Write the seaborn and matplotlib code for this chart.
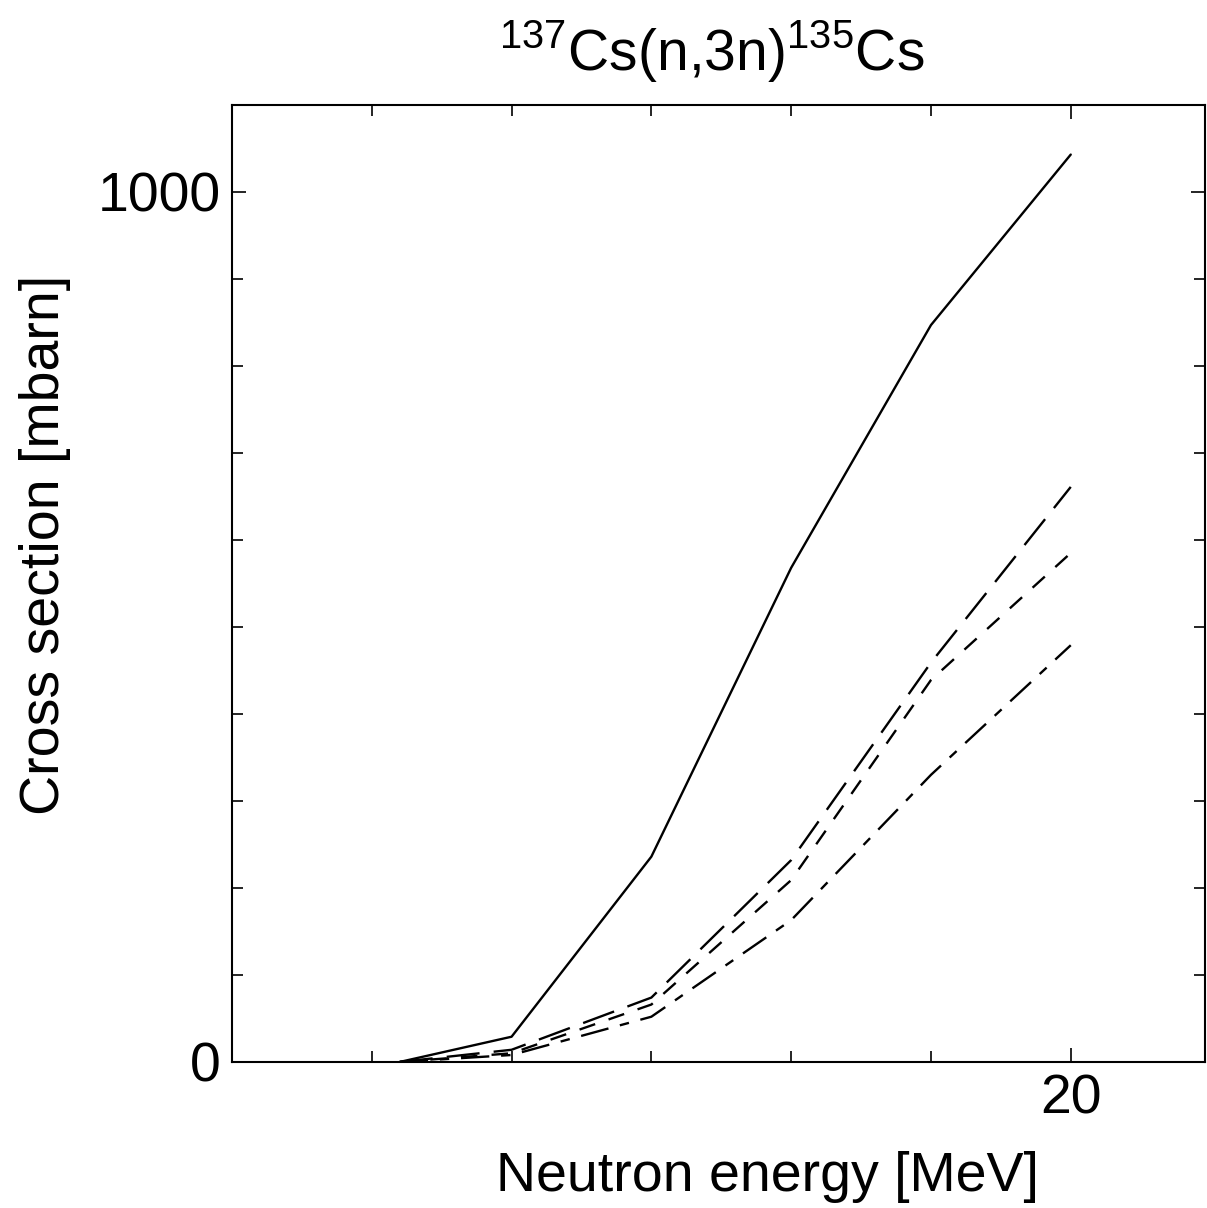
import seaborn as sns
from matplotlib import pyplot as plt
import pandas as pd

# neutron energy [MeV]
energy = [15.2, 16, 17, 18, 19, 20]
# cross sections [mbarn]
solid = [0, 29, 236, 568, 847, 1043]
long_dash = [0, 14, 74, 232, 459, 661]
short_dash = [0, 10, 66, 209, 439, 585]
dash_dot = [0, 8, 52, 163, 330, 479]

curves = {'a': solid, 'b': long_dash, 'c': short_dash, 'd': dash_dot}
rows = []
for name, vals in curves.items():
    for e, v in zip(energy, vals):
        rows.append({'energy': e, 'xs': v, 'curve': name})
df = pd.DataFrame(rows)

sns.set_style('ticks', {'axes.edgecolor': 'black', 'xtick.color': 'black',
                        'ytick.color': 'black', 'text.color': 'black',
                        'axes.labelcolor': 'black'})
plt.rcParams['font.family'] = ['Liberation Sans', 'DejaVu Sans']
plt.rcParams['mathtext.fontset'] = 'custom'
plt.rcParams['mathtext.rm'] = 'Liberation Sans'

fig = plt.figure(figsize=(12.07, 12.08), dpi=100)
ax = fig.add_axes([0.1922, 0.1209, 0.8061, 0.7922])

sns.lineplot(data=df, x='energy', y='xs', style='curve', color='black', linewidth=1.7,
             dashes={'a': '', 'b': (14, 6), 'c': (7, 6), 'd': (12, 5, 4, 5)},
             legend=False, ax=ax)

ax.set_xlim(14, 20.96)
ax.set_ylim(0, 1100)
ax.set_xticks([20])
ax.set_xticklabels(['20'])
ax.set_xticks([15, 16, 17, 18, 19], minor=True)
ax.set_yticks([0, 1000])
ax.set_yticklabels(['0', '1000'])
ax.set_yticks([100, 200, 300, 400, 500, 600, 700, 800, 900], minor=True)
ax.tick_params(which='both', direction='in', top=True, right=True, width=1.2)
ax.tick_params(which='major', length=10, labelsize=40, pad=8)
ax.tick_params(which='minor', length=8)
for s in ax.spines.values():
    s.set_linewidth(1.5)

ax.set_xlabel('Neutron energy [MeV]', fontsize=40)
ax.set_ylabel('Cross section [mbarn]', fontsize=40)
ax.xaxis.set_label_coords(0.55, -0.093)
ax.yaxis.set_label_coords(-0.165, 0.54)
fig.text(0.59, 0.957, r'$^{137}$Cs(n,3n)$^{135}$Cs', fontsize=41, ha='center', va='center')

fig.savefig('out.png', dpi=100, facecolor='white')
